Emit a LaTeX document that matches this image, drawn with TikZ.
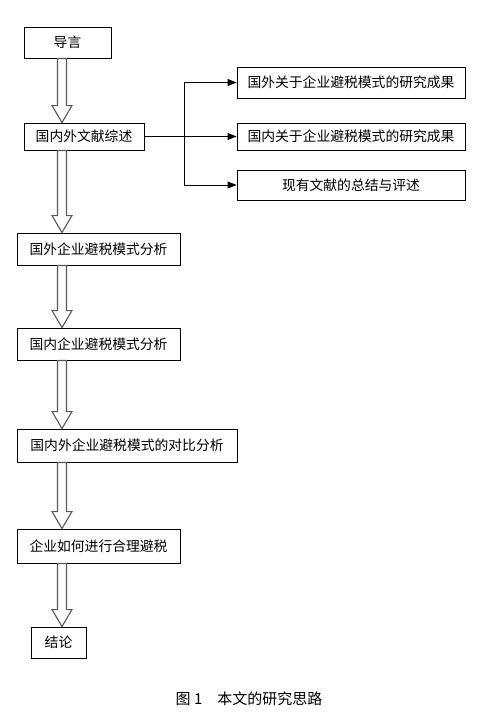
\documentclass[tikz,border=0pt]{standalone}
\usepackage{fontspec}
\setmainfont{Noto Sans CJK SC}
\usetikzlibrary{arrows.meta,calc,positioning}

% hollow block arrow between two stacked boxes
\newcommand{\hollowarrow}[2]{%
  \draw[hollow] let \p1=(ax |- #1.south), \p2=(ax |- #2.north) in
    (\x1-4.5pt,\y1) -- (\x1-4.5pt,\y2+17pt) -- (\x1-10pt,\y2+17pt) -- (\x1,\y2)
    -- (\x1+10pt,\y2+17pt) -- (\x1+4.5pt,\y2+17pt) -- (\x1+4.5pt,\y1) -- cycle;}

\begin{document}
\begin{tikzpicture}[
    x=1pt, y=-1pt,
    every node/.style={inner sep=0pt},
    box/.style={draw, line width=0.9pt, fill=white, font=\fontsize{13.8}{16}\selectfont, align=center},
    hollow/.style={draw=gray!70!black, line width=1.1pt, fill=white, line join=miter},
    link/.style={line width=0.9pt, -{Triangle[length=9pt,width=7pt]}}
  ]
  \useasboundingbox (0,0) rectangle (498,720);

  % main column
  \node[box, minimum width=87, minimum height=31] (intro) at (67.5,42.5) {导言};
  \node[box, minimum width=120, minimum height=27] (review) at (84,136.5) {国内外文献综述};
  \node[box, minimum width=163, minimum height=32] (foreign) at (98.5,249) {国外企业避税模式分析};
  \node[box, minimum width=163, minimum height=32] (domestic) at (98.5,344) {国内企业避税模式分析};
  \node[box, minimum width=220, minimum height=33] (compare) at (127,445.5) {国内外企业避税模式的对比分析};
  \node[box, minimum width=163, minimum height=34] (howto) at (98.5,546) {企业如何进行合理避税};
  \node[box, minimum width=55, minimum height=31] (concl) at (58.5,642.5) {结论};

  % literature branches
  \node[box, minimum width=228, minimum height=31] (litA) at (351,82.5) {国外关于企业避税模式的研究成果};
  \node[box, minimum width=228, minimum height=27] (litB) at (351,136.5) {国内关于企业避税模式的研究成果};
  \node[box, minimum width=228, minimum height=30] (litC) at (351,185) {现有文献的总结与评述};

  % arrows down the column
  \coordinate (ax) at (62,0);
  \hollowarrow{intro}{review}
  \hollowarrow{review}{foreign}
  \hollowarrow{foreign}{domestic}
  \hollowarrow{domestic}{compare}
  \hollowarrow{compare}{howto}
  \hollowarrow{howto}{concl}

  % branch lines
  \coordinate (bx) at (184,0);
  \draw[line width=0.9pt] (bx |- litA.west) -- (bx |- litC.west);
  \draw[link] (review.east) -- (litB.west);
  \draw[link] (bx |- litA.west) -- (litA.west);
  \draw[link] (bx |- litC.west) -- (litC.west);

  % caption
  \node[font=\fontsize{15}{17}\selectfont] (caption) at (249,699) {图 1\quad 本文的研究思路};
\end{tikzpicture}
\end{document}
